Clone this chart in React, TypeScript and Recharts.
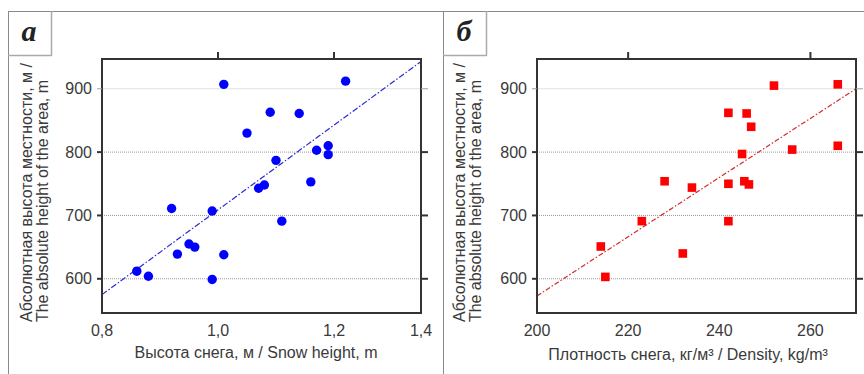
import React from 'react';
import { ScatterChart, Scatter, XAxis, YAxis, CartesianGrid, ReferenceArea } from 'recharts';

// Panel а: snow height (m) vs absolute elevation (m)
const snowHeight = [1.01, 1.22, 1.09, 1.14, 1.05, 1.19, 1.17, 1.19, 1.10, 1.16, 1.08, 1.07, 0.92, 0.99, 1.11, 0.95, 0.96, 0.93, 1.01, 0.86, 0.88, 0.99];
const elevationA = [907, 912, 863, 861, 830, 810, 803, 796, 787, 753, 748, 743, 711, 707, 691, 655, 650, 639, 638, 612, 604, 599];
// Panel б: snow density (kg/m3) vs absolute elevation (m)
const density = [252, 266, 242, 246, 247, 245, 256, 266, 228, 234, 242, 245.5, 246.5, 223, 242, 214, 232, 215];
const elevationB = [905, 907, 862, 861, 840, 797, 804, 810, 754, 744, 750, 754, 749, 691, 691, 651, 640, 603];

// Regression lines (end points)
const fitAx = [0.8, 1.35];
const fitAy = [575, 943];
const fitBx = [200, 270];
const fitBy = [573, 900];

// Axes
const yTicks = [600, 700, 800, 900];
const yDottedGrid = [600, 700, 800];
const ySolidGrid = [900];
const yDomain = [546, 947];
const xTicksA = [0.8, 1.0, 1.2, 1.35];
const xLabelsA = ['0,8', '1,0', '1,2', '1,4'];
const xTopTicksA = [1.0, 1.2];
const xDomainA = [0.8, 1.35];
const xTicksB = [200, 220, 240, 260];
const xTopTicksB = [220, 260];
const xDomainB = [200, 270];

const yTitle1 = 'Абсолютная высота местности, м /';
const yTitle2 = 'The absolute height of the area, m';
const xTitleA = 'Высота снега, м / Snow height, m';
const xTitleB = 'Плотность снега, кг/м³ / Density, kg/m³';

const dataA = snowHeight.map((x, i) => ({ x, y: elevationA[i] }));
const dataB = density.map((x, i) => ({ x, y: elevationB[i] }));
const fitA = fitAx.map((x, i) => ({ x, y: fitAy[i] }));
const fitB = fitBx.map((x, i) => ({ x, y: fitBy[i] }));

const FONT = '"Liberation Sans", Arial, sans-serif';
const TXT = '#3a3a3a';
const tickStyle = { fontSize: 16, fill: TXT, fontFamily: FONT };

// chart layout
const CH_W = 432;
const CH_H = 374;
const M_TOP = 59;
const X_AX_H = 61;
const Y_AX_W = 50;
const PANELS = [
  { offset: 0, marginLeft: 52, marginRight: 11, xDomain: xDomainA, xTop: xTopTicksA },
  { offset: 432, marginLeft: 55, marginRight: 8, xDomain: xDomainB, xTop: xTopTicksB },
];

const Dot = (p: any) => <circle cx={p.cx} cy={p.cy} r={4.7} fill="#0000ff" />;
const Sq = (p: any) => <rect x={p.cx - 4.3} y={p.cy - 4.3} width={8.6} height={8.6} fill="#ff0000" />;
const None = () => <g />;

function Panel(props: any) {
  const { data, fit, xDomain, xTicks, fmt, shape, lineColor, dash, marginLeft, marginRight } = props;
  return (
    <ScatterChart width={CH_W} height={CH_H} margin={{ top: M_TOP, right: marginRight, bottom: 0, left: marginLeft }}>
      <CartesianGrid vertical={false} horizontalValues={yDottedGrid} stroke="#9a9a9a" strokeDasharray="1 1" />
      <CartesianGrid vertical={false} horizontalValues={ySolidGrid} stroke="#e2e2e2" />
      <XAxis
        type="number"
        dataKey="x"
        domain={xDomain}
        ticks={xTicks}
        tickFormatter={fmt}
        height={X_AX_H}
        tickLine={false}
        axisLine={false}
        tickSize={6}
        tickMargin={6}
        tick={tickStyle}
        fontSize={16}
        interval={0}
      />
      <YAxis
        type="number"
        dataKey="y"
        domain={yDomain}
        ticks={yTicks}
        width={Y_AX_W}
        tickSize={5}
        tickMargin={5}
        tickLine={false}
        axisLine={false}
        tick={tickStyle}
        fontSize={16}
        interval={0}
      />
      <ReferenceArea
        x1={xDomain[0]}
        x2={xDomain[1]}
        y1={yDomain[0]}
        y2={yDomain[1]}
        fill="none"
        fillOpacity={0}
        stroke="#333"
        strokeWidth={2}
        ifOverflow="visible"
      />
      <Scatter
        data={fit}
        shape={None}
        line={{ stroke: lineColor, strokeWidth: 1.2, strokeDasharray: dash }}
        isAnimationActive={false}
      />
      <Scatter data={data} shape={shape} isAnimationActive={false} />
    </ScatterChart>
  );
}

// Outward tick marks and frame of the plot box (same linear mapping as the chart axes)
function BoxDecor({ p }: any) {
  const left = p.offset + p.marginLeft + Y_AX_W;
  const right = p.offset + CH_W - p.marginRight;
  const top = M_TOP;
  const bottom = CH_H - X_AX_H;
  const sx = (v: number) => left + ((v - p.xDomain[0]) / (p.xDomain[1] - p.xDomain[0])) * (right - left);
  const sy = (v: number) => top + ((yDomain[1] - v) / (yDomain[1] - yDomain[0])) * (bottom - top);
  const st = (v: number) => (v === 900 ? { stroke: '#a0a0a0', strokeWidth: 1 } : { stroke: '#333', strokeWidth: 2 });
  return (
    <g>
      <rect x={left} y={top} width={right - left} height={bottom - top} fill="none" stroke="#333" strokeWidth={2} />
      {p.xTop.map((v: number) => (
        <line key={'t' + v} x1={sx(v)} x2={sx(v)} y1={top - 7} y2={top} stroke="#333" strokeWidth={2} />
      ))}
      {yTicks.map((v) => (
        <g key={'y' + v}>
          <line x1={left - 5} x2={left} y1={sy(v)} y2={sy(v)} {...st(v)} />
          <line x1={right} x2={right + 7} y1={sy(v)} y2={sy(v)} {...st(v)} />
        </g>
      ))}
    </g>
  );
}

export default function App() {
  const fmtA = (v: number) => xLabelsA[xTicksA.indexOf(v)] ?? String(v);
  return (
    <div style={{ position: 'absolute', left: 0, top: 0, width: 864, height: 374, background: '#fff', overflow: 'hidden' }}>
      <svg width={864} height={374} style={{ position: 'absolute', left: 0, top: 0 }}>
        {/* frame */}
        <line x1={8} y1={11.5} x2={864} y2={11.5} stroke="#8a8a8a" strokeWidth={1} />
        <line x1={8.5} y1={11} x2={8.5} y2={374} stroke="#8a8a8a" strokeWidth={1} />
        <line x1={443.5} y1={11} x2={443.5} y2={374} stroke="#8a8a8a" strokeWidth={1} />
        {/* label boxes */}
        <line x1={51.5} y1={11} x2={51.5} y2={55.5} stroke="#aaa" strokeWidth={1.5} />
        <line x1={8} y1={55.5} x2={52} y2={55.5} stroke="#aaa" strokeWidth={1.5} />
        <line x1={486.5} y1={11} x2={486.5} y2={55.5} stroke="#aaa" strokeWidth={1.5} />
        <line x1={443} y1={55.5} x2={487} y2={55.5} stroke="#aaa" strokeWidth={1.5} />
        <text x={29} y={41} textAnchor="middle" fontFamily='"Liberation Serif", "Times New Roman", serif' fontWeight="bold" fontStyle="italic" fontSize={30} fill="#222">а</text>
        <text x={464} y={41} textAnchor="middle" fontFamily='"Liberation Serif", "Times New Roman", serif' fontWeight="bold" fontStyle="italic" fontSize={30} fill="#222">б</text>
        {/* axis titles */}
        <g fontFamily={FONT} fontSize={16} fill={TXT}>
          <text transform="translate(32,322) rotate(-90)" textAnchor="start" textLength={259} lengthAdjust="spacing">{yTitle1}</text>
          <text transform="translate(48,322) rotate(-90)" textAnchor="start" textLength={242} lengthAdjust="spacing">{yTitle2}</text>
          <text transform="translate(465,322) rotate(-90)" textAnchor="start" textLength={259} lengthAdjust="spacing">{yTitle1}</text>
          <text transform="translate(481,322) rotate(-90)" textAnchor="start" textLength={242} lengthAdjust="spacing">{yTitle2}</text>
          <text x={256} y={358} textAnchor="middle">{xTitleA}</text>
          <text x={688} y={360} textAnchor="middle">{xTitleB}</text>
        </g>
      </svg>
      <div style={{ position: 'absolute', left: 0, top: 0 }}>
        <Panel
          data={dataA}
          fit={fitA}
          xDomain={xDomainA}
          xTicks={xTicksA}
          fmt={fmtA}
          shape={Dot}
          lineColor="#2a2ad0"
          dash="6 2 1.5 2"
          marginLeft={PANELS[0].marginLeft}
          marginRight={PANELS[0].marginRight}
        />
      </div>
      <div style={{ position: 'absolute', left: 432, top: 0 }}>
        <Panel
          data={dataB}
          fit={fitB}
          xDomain={xDomainB}
          xTicks={xTicksB}
          fmt={(v: number) => String(v)}
          shape={Sq}
          lineColor="#d42a2a"
          dash="5 2 1.5 2"
          marginLeft={PANELS[1].marginLeft}
          marginRight={PANELS[1].marginRight}
        />
      </div>
      <svg width={864} height={374} style={{ position: 'absolute', left: 0, top: 0, pointerEvents: 'none' }}>
        {PANELS.map((p, i) => (
          <BoxDecor key={i} p={p} />
        ))}
      </svg>
    </div>
  );
}
